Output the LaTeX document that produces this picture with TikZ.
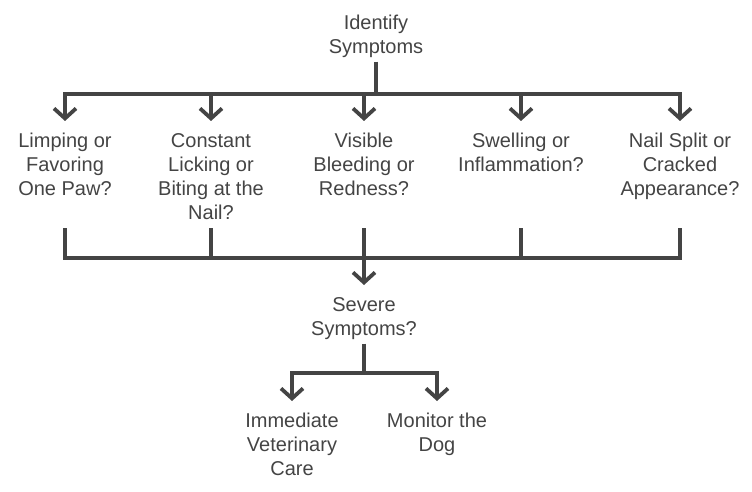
\documentclass[tikz,border=0pt]{standalone}
\usepackage{fontspec}
\setmainfont{Liberation Sans}
\usetikzlibrary{arrows.meta}
\definecolor{ink}{HTML}{444444}
\tikzset{
  lbl/.style={align=center,text=ink,inner sep=4pt,font=\fontsize{20}{24}\selectfont},
  wire/.style={draw=ink,line width=3.8pt},
  arr/.style={wire,shorten >=8pt,-{Straight Barb[length=10pt,width=22pt]}}
}

\begin{document}
\begin{tikzpicture}[x=1pt,y=-1pt]
  \useasboundingbox (0,0) rectangle (752,492);
  % first question
  \node[lbl] (ident) at (376,36) {Identify\\Symptoms};
  \coordinate (top) at (376,94);
  \draw[wire] (ident) -- (top);
  % symptoms
  \node[lbl,anchor=north] (s1) at (65,129) {Limping or\\Favoring\\One Paw?};
  \node[lbl,anchor=north] (s2) at (211,129) {Constant\\Licking or\\Biting at the\\Nail?};
  \node[lbl,anchor=north] (s3) at (364,129) {Visible\\Bleeding or\\Redness?};
  \node[lbl,anchor=north] (s4) at (521,129) {Swelling or\\Inflammation?};
  \node[lbl,anchor=north] (s5) at (680,129) {Nail Split or\\Cracked\\Appearance?};
  \foreach \s in {s1,s2,s3,s4,s5}{\draw[arr] (top) -| (\s.north);}
  % gather
  \coordinate (low) at (0,228);
  \coordinate (join) at (364,258);
  \draw[wire] (s1 |- low) |- (join) -| (s5 |- low);
  \foreach \s in {s2,s3,s4}{\draw[wire] (\s |- low) -- (\s |- join);}
  \node[lbl,anchor=north] (sev) at (364,293) {Severe\\Symptoms?};
  \draw[arr] (join) -- (sev);
  % outcome
  \coordinate (split) at (364,373);
  \draw[wire] (sev) -- (split);
  \node[lbl,anchor=north] (care) at (292,409) {Immediate\\Veterinary\\Care};
  \node[lbl,anchor=north] (mon) at (437,409) {Monitor the\\Dog};
  \draw[arr] (split) -| (care.north);
  \draw[arr] (split) -| (mon.north);
\end{tikzpicture}
\end{document}
